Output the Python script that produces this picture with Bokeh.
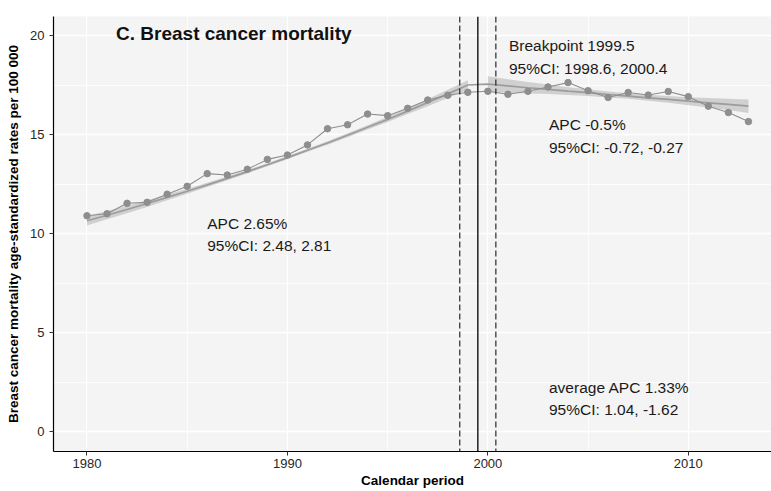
from bokeh.plotting import figure
from bokeh.models import Range1d, SingleIntervalTicker, Span, ColumnDataSource
from bokeh.core.properties import value
from bokeh.embed import file_html
from bokeh.resources import INLINE

# Observed age-standardized breast cancer mortality rates (per 100 000)
years = [1980, 1981, 1982, 1983, 1984, 1985, 1986, 1987, 1988, 1989,
         1990, 1991, 1992, 1993, 1994, 1995, 1996, 1997, 1998, 1999,
         2000, 2001, 2002, 2003, 2004, 2005, 2006, 2007, 2008, 2009,
         2010, 2011, 2012, 2013]
rates = [10.90, 11.00, 11.53, 11.58, 11.99, 12.39, 13.03, 12.96, 13.25, 13.75,
         13.97, 14.48, 15.30, 15.50, 16.04, 15.96, 16.33, 16.75, 16.99, 17.14,
         17.19, 17.04, 17.19, 17.41, 17.63, 17.22, 16.88, 17.13, 17.00, 17.18,
         16.92, 16.44, 16.12, 15.66]

# Joinpoint segment 1 (1980-1999): fitted values and 95% band
seg1_years = years[:20]
seg1_fit = [10.65, 10.93, 11.22, 11.52, 11.83, 12.14, 12.46, 12.79, 13.13, 13.48,
            13.84, 14.21, 14.58, 14.97, 15.37, 15.77, 16.19, 16.62, 17.06, 17.51]
seg1_lower = [10.41, 10.72, 11.03, 11.35, 11.68, 12.01, 12.35, 12.69, 13.04, 13.40,
              13.76, 14.13, 14.49, 14.87, 15.26, 15.64, 16.04, 16.44, 16.85, 17.27]
seg1_upper = [10.89, 11.14, 11.41, 11.69, 11.98, 12.27, 12.57, 12.89, 13.22, 13.56,
              13.92, 14.29, 14.67, 15.07, 15.48, 15.90, 16.34, 16.80, 17.27, 17.75]

# Joinpoint segment 2 (2000-2013): fitted values and 95% band
seg2_years = years[20:]
seg2_fit = [17.55, 17.46, 17.37, 17.29, 17.20, 17.12, 17.03, 16.95, 16.86, 16.78,
            16.69, 16.61, 16.53, 16.44]
seg2_lower = [17.15, 17.12, 17.08, 17.05, 17.00, 16.95, 16.88, 16.81, 16.71, 16.61,
              16.49, 16.37, 16.24, 16.10]
seg2_upper = [17.95, 17.80, 17.66, 17.53, 17.40, 17.29, 17.18, 17.09, 17.01, 16.95,
              16.89, 16.85, 16.82, 16.78]

breakpoint = 1999.5
breakpoint_ci = [1998.6, 2000.4]

x_ticks = [1980, 1990, 2000, 2010]
y_ticks = [0, 5, 10, 15, 20]

# Annotation texts with their anchor positions (data units)
notes = [
    ("Breakpoint 1999.5", 2001.05, 19.49),
    ("95%CI: 1998.6, 2000.4", 2001.05, 18.36),
    ("APC -0.5%", 2003.05, 15.50),
    ("95%CI: -0.72, -0.27", 2003.05, 14.37),
    ("APC 2.65%", 1986.0, 10.52),
    ("95%CI: 2.48, 2.81", 1986.0, 9.39),
    ("average APC 1.33%", 2003.05, 2.21),
    ("95%CI: 1.04, -1.62", 2003.05, 1.10),
]

FONT = "Liberation Sans"
GREY = "#8E8E8E"

p = figure(width=771, height=491,
           x_range=Range1d(1978.33, 2014.15), y_range=Range1d(-1.01, 20.97),
           output_backend="svg", toolbar_location=None,
           min_border_left=53, min_border_right=0,
           min_border_top=16, min_border_bottom=40)

p.background_fill_color = "#F4F4F4"
p.border_fill_color = "white"
p.outline_line_color = None

# Grid: white major and minor lines
p.xaxis.ticker = SingleIntervalTicker(interval=10, num_minor_ticks=2)
p.yaxis.ticker = SingleIntervalTicker(interval=5, num_minor_ticks=2)
p.xaxis.major_label_overrides = {t: str(t) for t in x_ticks}
for g in (p.xgrid, p.ygrid):
    g.grid_line_color = "white"
    g.grid_line_width = 1.3
    g.minor_grid_line_color = "white"
    g.minor_grid_line_width = 0.8

for ax in (p.xaxis, p.yaxis):
    ax.axis_line_color = "black"
    ax.axis_line_width = 1.2
    ax.major_tick_line_color = "#333333"
    ax.major_tick_out = 4
    ax.major_tick_in = 0
    ax.minor_tick_line_color = None
    ax.major_label_text_font = FONT
    ax.major_label_text_font_size = "13px"
    ax.major_label_text_color = "#262626"
    ax.axis_label_text_font = FONT
    ax.axis_label_text_font_size = "13.5px"
    ax.axis_label_text_font_style = "bold"
    ax.axis_label_text_color = "black"

p.xaxis.axis_label = "Calendar period"
p.yaxis.axis_label = "Breast cancer mortality age-standardized rates per 100 000"
p.xaxis.major_label_standoff = 3
p.xaxis.axis_label_standoff = 2
p.yaxis.major_label_standoff = 5
p.yaxis.axis_label_standoff = 6

# Confidence bands of the two fitted segments
p.varea(x=seg1_years, y1=seg1_lower, y2=seg1_upper, fill_color="#BDBDBD", fill_alpha=0.65)
p.varea(x=seg2_years, y1=seg2_lower, y2=seg2_upper, fill_color="#BDBDBD", fill_alpha=0.65)

# Fitted joinpoint line
p.line(x=seg1_years + seg2_years, y=seg1_fit + seg2_fit, line_color="#9C9C9C", line_width=1.7)

# Observed rates
p.line(x=years, y=rates, line_color=GREY, line_width=1.1)
p.scatter(x=years, y=rates, size=6.5, fill_color=GREY, line_color=GREY)

# Breakpoint and its confidence limits
p.add_layout(Span(location=breakpoint, dimension="height", line_color="black", line_width=1.3))
for loc in breakpoint_ci:
    p.add_layout(Span(location=loc, dimension="height", line_color="black",
                      line_width=1.0, line_dash="6 3"))

src = ColumnDataSource(dict(text=[n[0] for n in notes], x=[n[1] for n in notes],
                            y=[n[2] for n in notes]))
p.text(x="x", y="y", text="text", source=src, text_font=value(FONT),
       text_font_size="15.5px", text_color="#1a1a1a",
       text_align="left", text_baseline="middle")

p.text(x=[1981.45], y=[20.1], text=["C. Breast cancer mortality"], text_font=value(FONT),
       text_font_size="19px", text_font_style="bold", text_color="#111111",
       text_align="left", text_baseline="middle")

open("out.html", "w").write(file_html(p, INLINE))
